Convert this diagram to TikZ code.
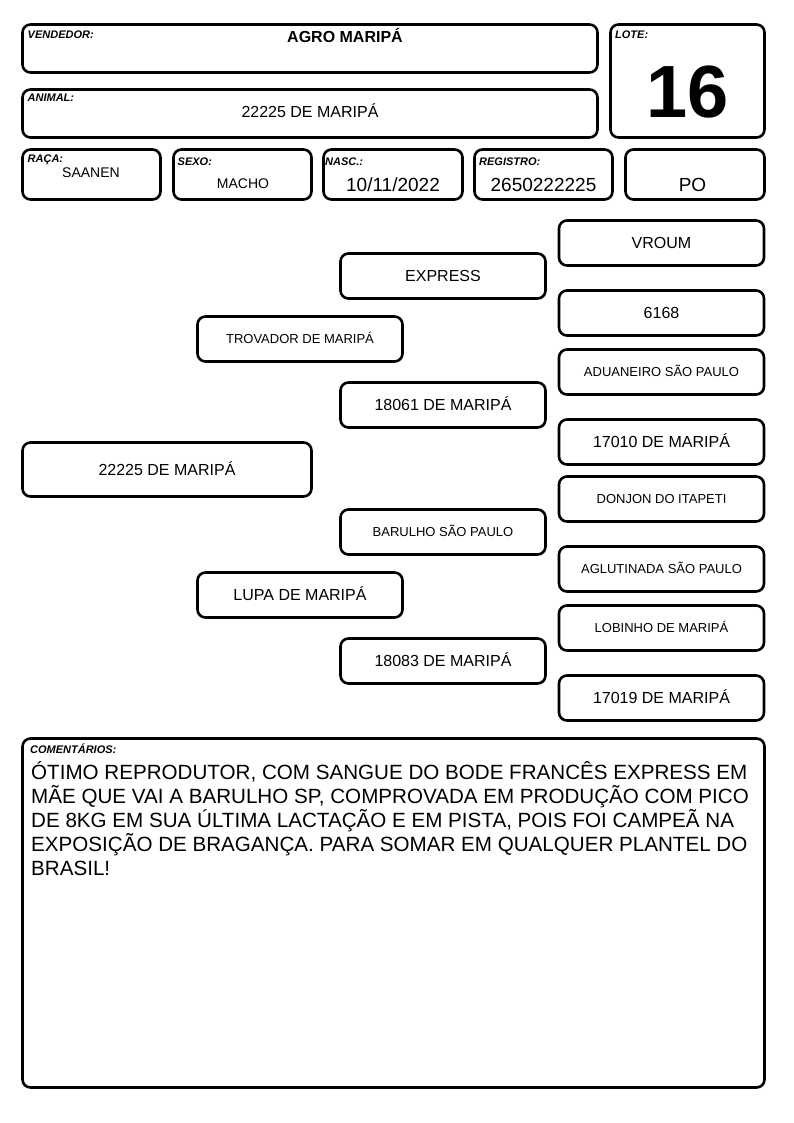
\documentclass[tikz,border=0pt]{standalone}
\usepackage{fontspec}
\setmainfont{Liberation Sans}
\tikzset{
  caixa/.style={draw, line width=2.6pt, rounded corners=8pt, inner sep=0pt},
  rotulo/.style={anchor=base west, inner sep=0pt, font=\fontsize{11}{13}\selectfont\bfseries\itshape},
  valor/.style={anchor=base, inner sep=0pt},
  grande/.style={caixa, minimum width=205pt, minimum height=45pt, text height=11.5pt, text depth=0pt, font=\fontsize{16}{19}\selectfont},
  pequeno/.style={grande, text height=9.3pt, font=\fontsize{13}{15}\selectfont},
}

\begin{document}
\begin{tikzpicture}[x=1pt,y=-1pt]
	\useasboundingbox (0,0) rectangle (794,1123);
	
	%%%%% CABECALHO %%%%%
	\node[caixa, minimum width=575pt, minimum height=48pt] (vendedor) at (310, 48.5) {};
	\node[caixa, minimum width=575pt, minimum height=48pt] (animal) at (310, 113.5) {};
	\node[caixa, minimum width=154pt, minimum height=113pt] (lote) at (687.5, 81) {};
	
	\node[caixa, minimum width=138pt, minimum height=50pt] (raca) at (91.5, 174.5) {};
	\node[caixa, minimum width=138pt, minimum height=50pt] (sexo) at (242.5, 174.5) {};
	\node[caixa, minimum width=139pt, minimum height=50pt] (nasc) at (393, 174.5) {};
	\node[caixa, minimum width=138pt, minimum height=50pt] (registro) at (543.5, 174.5) {};
	\node[caixa, minimum width=139pt, minimum height=50pt] (po) at (695, 174.5) {};
	
	\node[rotulo] (rvendedor) at (27.5, 39) {VENDEDOR:};
	\node[rotulo] (ranimal) at (27.5, 102) {ANIMAL:};
	\node[rotulo] (rlote) at (615, 38.5) {LOTE:};
	\node[rotulo] (rraca) at (27.5, 162.5) {RAÇA:};
	\node[rotulo] (rsexo) at (177.5, 165.5) {SEXO:};
	\node[rotulo] (rnasc) at (325, 165.5) {NASC.:};
	\node[rotulo] (rregistro) at (479, 165.5) {REGISTRO:};
	
	\node[valor, font=\fontsize{16}{19}\selectfont\bfseries] (nomevendedor) at (345, 43) {AGRO MARIPÁ};
	\node[valor, font=\fontsize{16}{19}\selectfont] (nomeanimal) at (310, 118) {22225 DE MARIPÁ};
	\node[valor, font=\fontsize{74}{80}\selectfont\bfseries] (numlote) at (687.5, 117.5) {16};
	\node[valor, font=\fontsize{14}{17}\selectfont] (valraca) at (91, 178) {SAANEN};
	\node[valor, font=\fontsize{14}{17}\selectfont] (valsexo) at (243, 189) {MACHO};
	\node[valor, font=\fontsize{19}{23}\selectfont] (valnasc) at (393, 192) {10/11/2022};
	\node[valor, font=\fontsize{19}{23}\selectfont] (valregistro) at (543.5, 192) {2650222225};
	\node[valor, font=\fontsize{19}{23}\selectfont] (valpo) at (692.5, 192) {PO};
	
	%%%%% GENEALOGIA %%%%%
	\node[grande, minimum width=289pt, minimum height=54pt] (filho) at (167, 469.5) {22225 DE MARIPÁ};
	
	\node[pequeno] (pai) at (300, 339) {TROVADOR DE MARIPÁ};
	\node[grande] (mae) at (300, 595) {LUPA DE MARIPÁ};
	
	\node[grande] (avo1) at (443, 276) {EXPRESS};
	\node[grande] (avo2) at (443, 405) {18061 DE MARIPÁ};
	\node[pequeno] (avo3) at (443, 532) {BARULHO SÃO PAULO};
	\node[grande] (avo4) at (443, 661) {18083 DE MARIPÁ};
	
	\node[grande] (bisavo1) at (661.5, 243) {VROUM};
	\node[grande] (bisavo2) at (661.5, 313) {6168};
	\node[pequeno] (bisavo3) at (661.5, 372) {ADUANEIRO SÃO PAULO};
	\node[grande] (bisavo4) at (661.5, 442) {17010 DE MARIPÁ};
	\node[pequeno] (bisavo5) at (661.5, 499) {DONJON DO ITAPETI};
	\node[pequeno] (bisavo6) at (661.5, 569) {AGLUTINADA SÃO PAULO};
	\node[pequeno] (bisavo7) at (661.5, 628) {LOBINHO DE MARIPÁ};
	\node[grande] (bisavo8) at (661.5, 698) {17019 DE MARIPÁ};
	
	%%%%% COMENTARIOS %%%%%
	\node[caixa, minimum width=742pt, minimum height=349pt] (comentarios) at (393.5, 913) {};
	\node[rotulo] (rcomentarios) at (30, 753) {COMENTÁRIOS:};
	\node[anchor=north west, inner sep=0pt, align=left, font=\fontsize{20.6}{24}\selectfont] (textocom) at (31, 761.5)
		{ÓTIMO REPRODUTOR, COM SANGUE DO BODE FRANCÊS EXPRESS EM\\
		MÃE QUE VAI A BARULHO SP, COMPROVADA EM PRODUÇÃO COM PICO\\
		DE 8KG EM SUA ÚLTIMA LACTAÇÃO E EM PISTA, POIS FOI CAMPEÃ NA\\
		EXPOSIÇÃO DE BRAGANÇA. PARA SOMAR EM QUALQUER PLANTEL DO\\
		BRASIL!};
\end{tikzpicture}
\end{document}
